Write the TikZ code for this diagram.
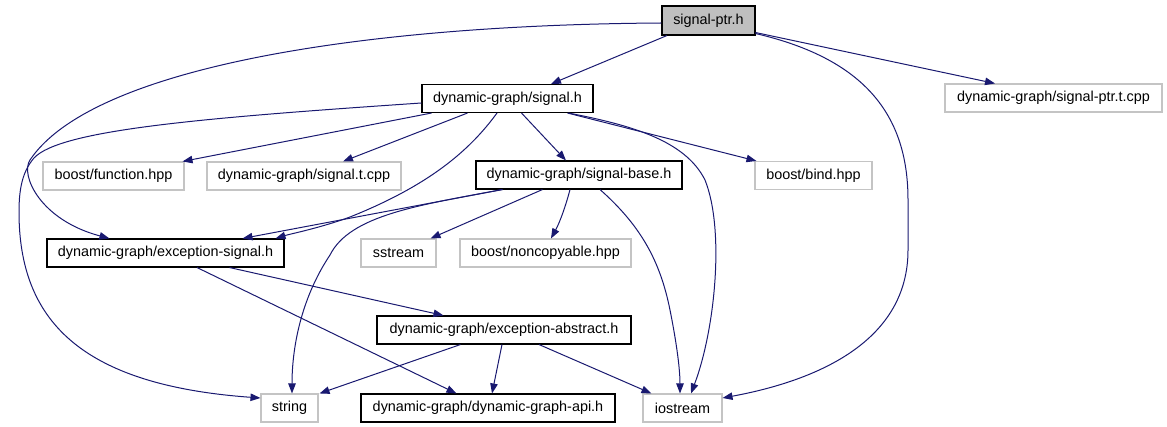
\documentclass[tikz,border=0pt]{standalone}
\usepackage{fontspec}
\setmainfont{Liberation Sans}
\usetikzlibrary{arrows.meta,calc}
\definecolor{edgec}{HTML}{191970}
\definecolor{lgray}{HTML}{C4C4C4}
\definecolor{fgray}{HTML}{BFBFBF}
\begin{document}
\begin{tikzpicture}[x=0.75pt,y=-0.75pt,
  box/.style={draw=black, line width=0.8pt, inner sep=0pt, minimum height=21pt,
    font=\fontsize{10.8}{12}\selectfont, anchor=center},
  ext/.style={box, draw=lgray},
  dep/.style={draw=edgec, line width=0.75pt, -{Triangle[length=7.5pt,width=5.6pt]}},
]
\useasboundingbox (0,0) rectangle (1167,427);

\node[box, fill=fgray, minimum width=69.75pt, minimum height=21.75pt] (sigptr) at (708.5,20.5) {signal-ptr.h};
\node[box, minimum width=128.25pt] (signal) at (507.5,98.5) {dynamic-graph/signal.h};
\node[ext, minimum width=162.75pt] (sigptrt) at (1053.5,98) {dynamic-graph/signal-ptr.t.cpp};
\node[ext, minimum width=105.75pt] (boostfn) at (113.5,176) {boost/function.hpp};
\node[ext, minimum width=145.5pt] (signalt) at (304,176) {dynamic-graph/signal.t.cpp};
\node[box, minimum width=154.5pt] (sigbase) at (579,175) {dynamic-graph/signal-base.h};
\node[ext, minimum width=87.75pt] (bind) at (813.5,175.5) {boost/bind.hpp};
\node[box, minimum width=177.75pt] (excsig) at (165.5,253) {dynamic-graph/exception-signal.h};
\node[ext, minimum width=56.25pt] (sstream) at (398.5,253) {sstream};
\node[ext, minimum width=128.25pt] (noncopy) at (545.5,253) {boost/noncopyable.hpp};
\node[box, minimum width=190.5pt] (excabs) at (504,330) {dynamic-graph/exception-abstract.h};
\node[ext, minimum width=42.75pt] (string) at (289.5,408) {string};
\node[box, minimum width=190.5pt] (api) at (488,408) {dynamic-graph/dynamic-graph-api.h};
\node[ext, minimum width=59.25pt] (iostream) at (682.5,408) {iostream};

% signal-ptr.h
\draw[dep] ($(sigptr.south)+(-41.5,0)$) -- ($(signal.north)+(43.5,0)$);
\draw[dep] ($(sigptr.south east)+(0,-3)$) -- ($(sigptrt.north)+(-58.5,0)$);
\draw[dep] ($(sigptr.south east)+(0,-2)$) .. controls (870,60) and (908,120) .. (908,200)
  -- (908,250) .. controls (908,340) and (820,380) .. ($(iostream.east)+(0,-10)$);
\draw[dep] ($(sigptr.west)+(0,2.5)$) .. controls (350,25) and (90,70) .. (30,160)
  .. controls (20,175) and (40,220) .. ($(excsig.north west)+(63,0)$);

% signal.h
\draw[dep] ($(signal.west)+(0,4.5)$) .. controls (200,118) and (60,130) .. (34,158)
  .. controls (22,172) and (19,190) .. (19,212)
  .. controls (19,320) and (80,385) .. ($(string.west)+(0,-10)$);
\draw[dep] ($(signal.south west)+(10,0)$) -- ($(boostfn.north east)+(-2,0)$);
\draw[dep] ($(signal.south west)+(46,0)$) -- ($(signalt.north)+(39,0)$);
\draw[dep] ($(signal.south)+(-10.5,0)$) .. controls (470,150) and (430,185) .. (350,217)
  .. controls (320,228) and (290,234) .. ($(excsig.north east)+(-9,0)$);
\draw[dep] ($(signal.south)+(14,0)$) -- ($(sigbase.north)+(-13,0)$);
\draw[dep] ($(signal.south east)+(-26,0)$) -- ($(bind.north west)+(2,0)$);
\draw[dep] ($(signal.south east)+(-25,0)$) .. controls (630,125) and (685,140) .. (705,180)
  .. controls (725,230) and (715,330) .. ($(iostream.north)+(8.5,0)$);

% signal-base.h
\draw[dep] ($(sigbase.south west)+(27,0)$) -- ($(excsig.north east)+(-42,0)$);
\draw[dep] ($(sigbase.south west)+(27,0)$) .. controls (420,205) and (350,215) .. (330,255)
  .. controls (300,300) and (292,350) .. ($(string.north)+(2.5,0)$);
\draw[dep] ($(sigbase.south west)+(67,0)$) -- ($(sstream.north east)+(-6,0)$);
\draw[dep] ($(sigbase.south)+(-9,0)$) .. controls (566,205) and (560,222) .. ($(noncopy.north)+(5.5,0)$);
\draw[dep] ($(sigbase.south)+(21,0)$) .. controls (640,225) and (660,260) .. (670,310)
  .. controls (677,345) and (680,370) .. ($(iostream.north)+(-2.5,0)$);

% exception-signal.h
\draw[dep] ($(excsig.south)+(64,0)$) -- ($(excabs.north west)+(67,0)$);
\draw[dep] ($(excsig.south)+(31.5,0)$) -- ($(api.north west)+(96,0)$);

% exception-abstract.h
\draw[dep] ($(excabs.south west)+(84,0)$) -- ($(string.north east)+(1,0)$);
\draw[dep] ($(excabs.south)+(-2,0)$) -- ($(api.north)+(4,0)$);
\draw[dep] ($(excabs.south)+(35,0)$) -- ($(iostream.north west)+(9,0)$);
\end{tikzpicture}
\end{document}
